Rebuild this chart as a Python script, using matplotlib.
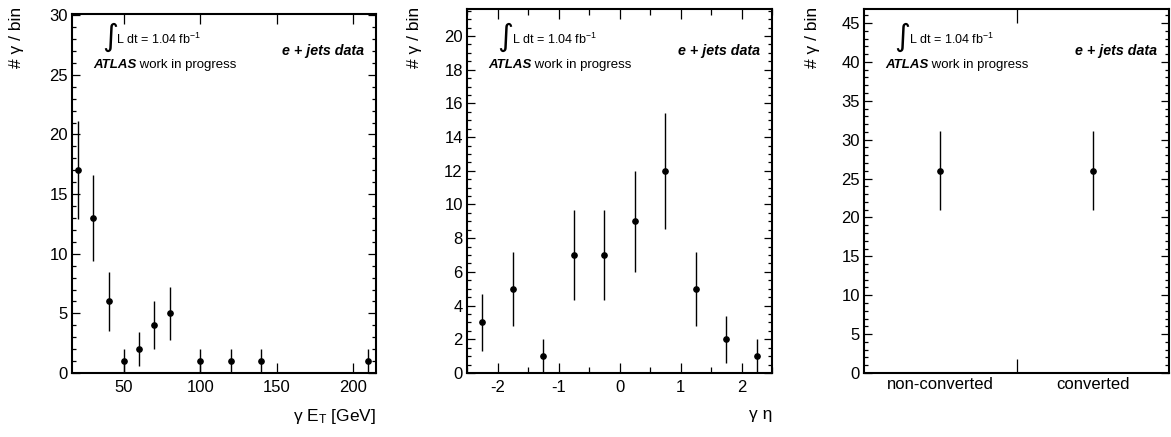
import matplotlib
matplotlib.use("Agg")
import matplotlib.pyplot as plt
from matplotlib.ticker import MultipleLocator
from matplotlib.transforms import blended_transform_factory

plt.rcParams['font.family'] = ['Liberation Sans', 'DejaVu Sans']
plt.rcParams['mathtext.fontset'] = 'custom'
plt.rcParams['mathtext.rm'] = 'Liberation Sans'
plt.rcParams['mathtext.it'] = 'Liberation Sans:italic'
plt.rcParams['axes.unicode_minus'] = False

# photon E_T
et_centers = [20, 30, 40, 50, 60, 70, 80, 100, 120, 140, 210]
et_counts = [17, 13, 6, 1, 2, 4, 5, 1, 1, 1, 1]
et_errors = [4.1, 3.6, 2.45, 1.0, 1.4, 2.0, 2.2, 1.0, 1.0, 1.0, 1.0]

# photon eta
eta_centers = [-2.25, -1.75, -1.25, -0.75, -0.25, 0.25, 0.75, 1.25, 1.75, 2.25]
eta_counts = [3, 5, 1, 7, 7, 9, 12, 5, 2, 1]
eta_errors = [1.7, 2.2, 1.0, 2.65, 2.65, 3.0, 3.45, 2.2, 1.4, 1.0]

# conversion type
conv_labels = ['non-converted', 'converted']
conv_counts = [26, 26]
conv_errors = [5.1, 5.1]

fig = plt.figure(figsize=(11.71, 4.37), dpi=100)
W, H = 1171.0, 437.0


def make_axes(left, right, top, bottom):
    return fig.add_axes([left / W, 1 - bottom / H, (right - left) / W, (bottom - top) / H])


def style(ax, ymajor, yminor):
    for s in ax.spines.values():
        s.set_linewidth(1.5)
    ax.yaxis.set_major_locator(MultipleLocator(ymajor))
    ax.yaxis.set_minor_locator(MultipleLocator(yminor))
    ax.tick_params(axis='both', which='both', direction='in', top=True, right=True,
                   labelsize=12, width=0.9, colors='black')
    ax.tick_params(axis='y', which='major', length=6, pad=3)
    ax.tick_params(axis='y', which='minor', length=3)
    ax.tick_params(axis='x', which='major', length=7.5, pad=5)
    ax.tick_params(axis='x', which='minor', length=4.5, pad=5)


def decorate(ax):
    tr = blended_transform_factory(ax.transAxes, fig.transFigure)
    ax.text(0.124, 1 - 37 / H, '\u222b', transform=tr, fontsize=22,
            family='DejaVu Sans', ha='center', va='center')
    ax.text(0.146, 1 - 39 / H, 'L dt = 1.04 fb$^{-1}$', transform=tr,
            fontsize=9, ha='left', va='center')
    t = ax.text(0.069, 1 - 65 / H, 'ATLAS', transform=tr, fontsize=9.5,
                fontweight='bold', fontstyle='italic', ha='left', va='center')
    ax.annotate(' work in progress', xy=(1, 0), xycoords=t, fontsize=9.5,
                ha='left', va='bottom')
    ax.text(0.96, 1 - 51 / H, 'e + jets data', transform=tr, fontsize=10.3,
            fontweight='bold', fontstyle='italic', ha='right', va='center')


def ylabel(x):
    fig.text(x / W, 1 - 7 / H, '# \u03b3 / bin', rotation=90, ha='center',
             va='top', fontsize=12.5)


def draw(ax, x, y, err):
    ax.errorbar(x, y, yerr=err, fmt='o', color='black', markersize=3.8,
                elinewidth=1.0, capsize=0)


# panel 1
ax1 = make_axes(72, 376, 14, 373)
draw(ax1, et_centers, et_counts, et_errors)
ax1.set_xlim(16, 215)
ax1.set_ylim(0, 30.1)
style(ax1, 5, 1)
ax1.xaxis.set_major_locator(MultipleLocator(50))
decorate(ax1)
ylabel(17)
fig.text(376 / W, 1 - 417 / H, '\u03b3 E$_\\mathregular{T}$ [GeV]', ha='right',
         va='center', fontsize=12.5)

# panel 2
ax2 = make_axes(467, 772, 9, 373)
draw(ax2, eta_centers, eta_counts, eta_errors)
ax2.set_xlim(-2.5, 2.5)
ax2.set_ylim(0, 21.6)
style(ax2, 2, 0.5)
ax2.xaxis.set_major_locator(MultipleLocator(1))
ax2.xaxis.set_minor_locator(MultipleLocator(0.5))
decorate(ax2)
ylabel(414)
fig.text(772 / W, 1 - 414 / H, '\u03b3 \u03b7', ha='right', va='center', fontsize=12.5)

# panel 3
ax3 = make_axes(864, 1169, 9, 373)
draw(ax3, [0.5, 1.5], conv_counts, conv_errors)
ax3.set_xlim(0, 2)
ax3.set_ylim(0, 46.8)
style(ax3, 5, 1)
ax3.set_xticks([0.5, 1.5])
ax3.set_xticklabels(conv_labels)
ax3.set_xticks([1], minor=True)
ax3.tick_params(axis='x', which='major', length=0, pad=3)
ax3.tick_params(axis='x', which='minor', length=10)
decorate(ax3)
ylabel(812)

fig.savefig('out.png', dpi=100)
